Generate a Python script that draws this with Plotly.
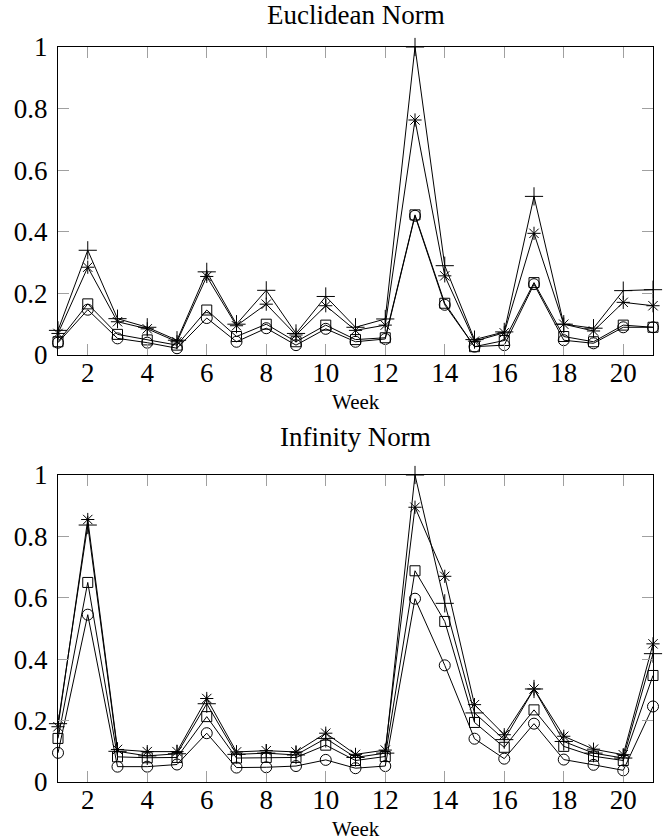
import plotly.graph_objects as go
from plotly.subplots import make_subplots

weeks = list(range(1, 22))

# Euclidean Norm series
euc_plus = [0.08, 0.34, 0.118, 0.09, 0.048, 0.27, 0.10, 0.21, 0.07, 0.19, 0.09, 0.117,
            1.0, 0.29, 0.05, 0.075, 0.515, 0.10, 0.087, 0.209, 0.212]
euc_star = [0.07, 0.285, 0.108, 0.085, 0.043, 0.255, 0.095, 0.165, 0.065, 0.16, 0.08, 0.097,
            0.763, 0.257, 0.045, 0.072, 0.395, 0.10, 0.078, 0.171, 0.16]
euc_square = [0.043, 0.166, 0.067, 0.049, 0.032, 0.146, 0.06, 0.10, 0.043, 0.097, 0.05, 0.056,
              0.455, 0.168, 0.027, 0.047, 0.235, 0.06, 0.043, 0.097, 0.09]
euc_circle = [0.04, 0.147, 0.054, 0.04, 0.022, 0.12, 0.043, 0.087, 0.032, 0.085, 0.043, 0.052,
              0.452, 0.163, 0.027, 0.032, 0.23, 0.048, 0.038, 0.09, 0.09]

# Infinity Norm series
inf_plus = [0.19, 0.837, 0.10, 0.085, 0.092, 0.255, 0.09, 0.094, 0.088, 0.142, 0.08, 0.094,
            1.0, 0.582, 0.225, 0.138, 0.303, 0.132, 0.094, 0.078, 0.418]
inf_star = [0.18, 0.855, 0.106, 0.099, 0.099, 0.272, 0.098, 0.102, 0.098, 0.159, 0.09, 0.104,
            0.895, 0.67, 0.252, 0.154, 0.303, 0.149, 0.107, 0.089, 0.45]
inf_square = [0.142, 0.65, 0.082, 0.079, 0.08, 0.213, 0.078, 0.08, 0.08, 0.12, 0.07, 0.083,
              0.688, 0.523, 0.194, 0.113, 0.235, 0.116, 0.084, 0.07, 0.347]
inf_circle = [0.095, 0.545, 0.05, 0.05, 0.057, 0.159, 0.047, 0.048, 0.052, 0.072, 0.045, 0.052,
              0.597, 0.38, 0.141, 0.076, 0.19, 0.073, 0.056, 0.038, 0.246]

titles = ["Euclidean Norm", "Infinity Norm"]
x_label = "Week"
y_ticks = [0, 0.2, 0.4, 0.6, 0.8, 1]
y_tick_text = ["0", "0.2", "0.4", "0.6", "0.8", "1"]
x_ticks = [2, 4, 6, 8, 10, 12, 14, 16, 18, 20]

FONT = "Liberation Serif"

fig = make_subplots(rows=2, cols=1, vertical_spacing=0.1)

styles = [
    ("cross-thin-open", 13),
    ("asterisk-open", 11),
    ("square-open", 10),
    ("circle-open", 11),
]

panels = [
    [euc_plus, euc_star, euc_square, euc_circle],
    [inf_plus, inf_star, inf_square, inf_circle],
]

for r, series in enumerate(panels, start=1):
    for vals, (sym, size) in zip(series, styles):
        fig.add_trace(
            go.Scatter(
                x=weeks, y=vals, mode="lines+markers",
                line=dict(color="black", width=1),
                marker=dict(symbol=sym, size=size, color="black",
                            line=dict(color="black", width=1)),
                cliponaxis=False, showlegend=False,
            ),
            row=r, col=1,
        )

axis_common = dict(
    showgrid=False, zeroline=False, showline=True, linecolor="black", linewidth=1,
    mirror="allticks", ticks="inside", ticklen=11, tickwidth=1, tickcolor="#a0a0a0",
    tickfont=dict(family=FONT, size=27, color="black"),
)

for r in (1, 2):
    fig.update_xaxes(range=[1, 21], tickvals=x_ticks, ticklabelstandoff=-6,
                     row=r, col=1, **axis_common)
    fig.update_yaxes(range=[0, 1], tickvals=y_ticks, ticktext=y_tick_text,
                     ticklabelstandoff=4, row=r, col=1, **axis_common)

W, H = 670, 840
top, bottom, left, right = 47, 58, 58, 17
plot_h = H - top - bottom


def py2paper(page_y):
    return (H - bottom - page_y) / plot_h


fig.update_layout(
    width=W, height=H,
    margin=dict(l=left, r=right, t=top, b=bottom),
    plot_bgcolor="white", paper_bgcolor="white",
    font=dict(family=FONT, color="black"),
    yaxis=dict(domain=[py2paper(355), 1.0]),
    yaxis2=dict(domain=[0.0, py2paper(475)]),
)

annotations = [
    dict(text=titles[0], y=py2paper(14.5), font_size=27),
    dict(text=titles[1], y=py2paper(436.5), font_size=27),
    dict(text=x_label, y=py2paper(402), font_size=21),
    dict(text=x_label, y=py2paper(829), font_size=21),
]
for a in annotations:
    fig.add_annotation(xref="paper", yref="paper", showarrow=False,
                       xanchor="center", yanchor="middle",
                       text=a["text"], x=0.5, y=a["y"],
                       font=dict(family=FONT, size=a["font_size"], color="black"))

fig.write_html("out.html", config={"displayModeBar": False},
               post_script="document.body.style.margin='0';")
